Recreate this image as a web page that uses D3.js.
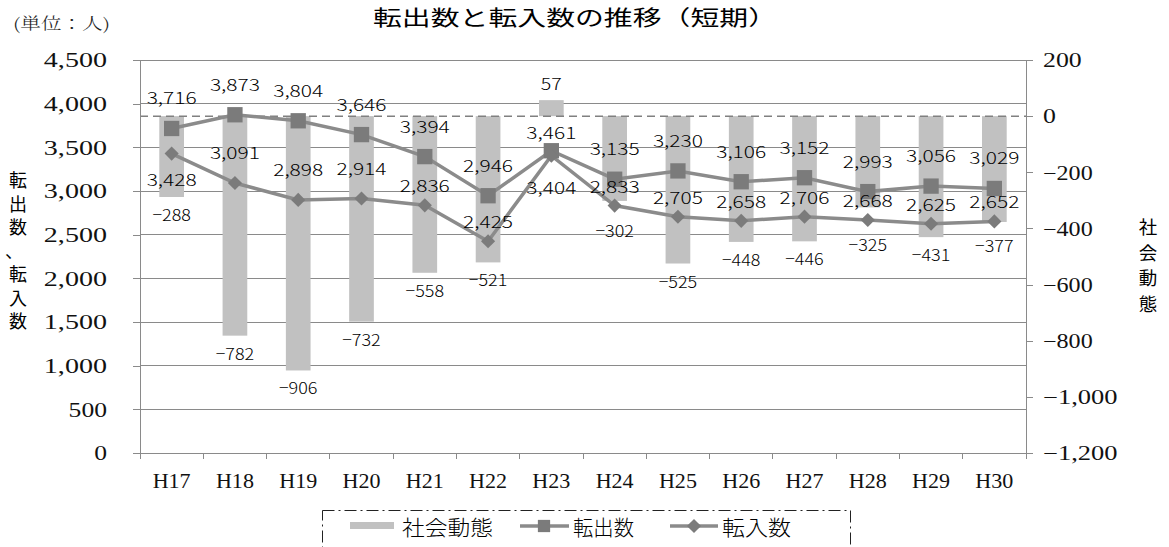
<!DOCTYPE html>
<html><head><meta charset="utf-8">
<script src="https://cdn.jsdelivr.net/npm/d3@7"></script>
<style>body{margin:0;background:#fff}svg{display:block}</style>
</head><body>
<svg id="chart" width="1169" height="547"></svg>
<script>
// ---- data ----
const categories = ["H17","H18","H19","H20","H21","H22","H23","H24","H25","H26","H27","H28","H29","H30"];
const tenshutsu = [3716,3873,3804,3646,3394,2946,3461,3135,3230,3106,3152,2993,3056,3029]; // 転出数
const tennyu    = [3428,3091,2898,2914,2836,2425,3404,2833,2705,2658,2706,2668,2625,2652]; // 転入数
const shakai    = [-288,-782,-906,-732,-558,-521,57,-302,-525,-448,-446,-325,-431,-377];   // 社会動態
const leftTicks  = [0,500,1000,1500,2000,2500,3000,3500,4000,4500];
const rightTicks = [200,0,-200,-400,-600,-800,-1000,-1200];
const seriesNames = ["社会動態","転出数","転入数"];
const titleText = "転出数と転入数の推移（短期）";
const unitText = "(単位：人)";
const leftTitle = "転出数、転入数";
const rightTitle = "社会動態";

// ---- setup ----
const svg = d3.select("#chart");
const L = 140, R = 1026, T = 60, B = 453;
const x = d3.scaleBand().domain(categories).range([L, R]);
const yL = d3.scaleLinear().domain([0, 4500]).range([B, T]);
const yR = d3.scaleLinear().domain([-1200, 200]).range([B, T]);
const fmt = d3.format(",");
const cx = c => x(c) + x.bandwidth() / 2;

const GRID = "#8a8a8a", BAR = "#c1c1c1", LINE = "#8b8b8b", MARK = "#7b7b7b";
const JP = "'Noto Sans CJK JP','Noto Sans',sans-serif";
const SERIF = "'Liberation Serif','DejaVu Serif',serif";

function widthOf(s, dW, cW, mW) {
  let w = 0;
  for (const ch of s) w += /[0-9]/.test(ch) ? dW : ch === "," ? cW : mW;
  return w;
}

// gridlines
svg.append("g").selectAll("line").data(leftTicks.filter(d => d > 0)).join("line")
  .attr("x1", L).attr("x2", R).attr("y1", d => yL(d)).attr("y2", d => yL(d))
  .attr("stroke", GRID).attr("stroke-width", 1).attr("shape-rendering", "crispEdges");

// bars
const bw = x.bandwidth() * 0.39;
svg.append("g").selectAll("rect").data(shakai).join("rect")
  .attr("x", (d, i) => cx(categories[i]) - bw / 2)
  .attr("width", bw)
  .attr("y", d => yR(Math.max(0, d)))
  .attr("height", d => Math.abs(yR(d) - yR(0)))
  .attr("fill", BAR);

// zero dashed line (right axis)
svg.append("line").attr("x1", L).attr("x2", R).attr("y1", yR(0)).attr("y2", yR(0))
  .attr("stroke", "#808080").attr("stroke-width", 1.5).attr("stroke-dasharray", "8,5");

// axes
const axL = svg.append("g").attr("transform", `translate(${L},0)`)
  .call(d3.axisLeft(yL).tickValues(leftTicks).tickSize(7).tickSizeOuter(0).tickFormat(fmt));
const axR = svg.append("g").attr("transform", `translate(${R},0)`)
  .call(d3.axisRight(yR).tickValues(rightTicks).tickSize(7).tickSizeOuter(0).tickFormat(fmt));
const axX = svg.append("g").attr("transform", `translate(0,${B})`)
  .call(d3.axisBottom(x).tickSize(0).tickSizeOuter(0));
[axL, axR, axX].forEach(a => {
  a.attr("font-family", SERIF).attr("font-weight", 400);
  a.select(".domain").attr("stroke", GRID).attr("shape-rendering", "crispEdges");
  a.selectAll(".tick line").attr("stroke", GRID).attr("shape-rendering", "crispEdges");
});
axL.selectAll(".tick text").attr("x", -33).attr("dy", "0.34em")
  .attr("font-family", SERIF).attr("font-size", 20).attr("fill", "#111")
  .attr("textLength", d => widthOf(fmt(d), 12.8, 12, 11)).attr("lengthAdjust", "spacingAndGlyphs");
axR.selectAll(".tick text").attr("x", 17).attr("dy", "0.34em")
  .attr("font-family", SERIF).attr("font-size", 20).attr("fill", "#111").attr("text-anchor", "start")
  .attr("textLength", d => widthOf(fmt(d), 12.9, 12, 11)).attr("lengthAdjust", "spacingAndGlyphs");
axX.selectAll(".tick text").attr("y", 35).attr("dy", 0)
  .attr("font-family", SERIF).attr("font-size", 22).attr("fill", "#111")
  .attr("textLength", 38).attr("lengthAdjust", "spacingAndGlyphs");
// category boundary ticks on x axis
axX.append("g").selectAll("line").data(d3.range(categories.length + 1)).join("line")
  .attr("x1", i => L + i * x.bandwidth()).attr("x2", i => L + i * x.bandwidth())
  .attr("y1", 0).attr("y2", 6).attr("stroke", GRID).attr("shape-rendering", "crispEdges");

// lines
const lineGen = d3.line().x((d, i) => cx(categories[i])).y(d => yL(d));
svg.append("path").datum(tenshutsu).attr("d", lineGen)
  .attr("fill", "none").attr("stroke", LINE).attr("stroke-width", 3.5);
svg.append("path").datum(tennyu).attr("d", lineGen)
  .attr("fill", "none").attr("stroke", LINE).attr("stroke-width", 3.5);

// markers
const sq = d3.symbol(d3.symbolSquare, 235);
const dm = d3.symbol(d3.symbolSquare, 100);
svg.append("g").selectAll("path").data(tenshutsu).join("path")
  .attr("d", sq).attr("transform", (d, i) => `translate(${cx(categories[i])},${yL(d)})`)
  .attr("fill", MARK);
svg.append("g").selectAll("path").data(tennyu).join("path")
  .attr("d", dm).attr("transform", (d, i) => `translate(${cx(categories[i])},${yL(d)}) rotate(45)`)
  .attr("fill", MARK);

// data labels
function lblLen(s) { return widthOf(s, 10.5, 8, 7); }
const lab = svg.append("g").attr("font-family", JP).attr("font-size", 16.5).attr("font-weight", 300)
  .attr("fill", "#000").attr("text-anchor", "middle").attr("dominant-baseline", "central");
function addLabel(xp, yp, s) {
  lab.append("text").attr("x", xp).attr("y", yp).attr("textLength", lblLen(s))
    .attr("lengthAdjust", "spacingAndGlyphs").text(s);
}
categories.forEach((c, i) => {
  const xc = cx(c);
  const yo = yL(tenshutsu[i]), yi = yL(tennyu[i]);
  // 転出数
  addLabel(xc, yo + (shakai[i] > 0 ? -19 : -31), fmt(tenshutsu[i]));
  // 転入数
  const diff = tenshutsu[i] - tennyu[i];
  let off;
  if (diff < 295) off = diff < 100 ? 31 : 25;
  else off = diff > 600 ? -31 : -20;
  addLabel(xc, yi + off, fmt(tennyu[i]));
  // 社会動態
  const v = shakai[i];
  const yb = v > 0 ? yR(v) - 17 : Math.max(yR(v) + 17, yi + 24);
  addLabel(xc, yb, fmt(v));
});

// title & unit
svg.append("text").attr("x", 373).attr("y", 25).attr("font-family", JP).attr("font-size", 21)
  .attr("fill", "#000").attr("textLength", 404).attr("lengthAdjust", "spacingAndGlyphs").text(titleText);
svg.append("text").attr("x", 13).attr("y", 29).attr("font-family", "'Noto Serif CJK JP'," + JP)
  .attr("font-size", 16).attr("font-weight", 300).attr("fill", "#222").attr("textLength", 97)
  .attr("lengthAdjust", "spacingAndGlyphs").text(unitText);

// vertical axis titles (stacked characters)
function stacked(text, xc, y0, pitch, size) {
  const t = svg.append("text").attr("font-family", JP).attr("font-size", size).attr("fill", "#000")
    .attr("text-anchor", "middle").attr("dominant-baseline", "central");
  Array.from(text).forEach((ch, k) => {
    t.append("tspan").attr("x", ch === "、" ? xc - 4 : xc).attr("y", y0 + k * pitch).text(ch);
  });
}
stacked(leftTitle, 18, 179, 23.5, 18);
stacked(rightTitle, 1148, 226, 25.5, 18.5);

// legend
const lg = svg.append("g");
lg.append("rect").attr("x", 322.5).attr("y", 510.5).attr("width", 528).attr("height", 60)
  .attr("fill", "none").attr("stroke", "#222").attr("stroke-width", 1).attr("stroke-dasharray", "12,4,2,4");
const ly = 526;
lg.append("rect").attr("x", 350).attr("y", ly - 4).attr("width", 44).attr("height", 7).attr("fill", BAR);
lg.append("line").attr("x1", 520).attr("x2", 569).attr("y1", ly).attr("y2", ly).attr("stroke", LINE).attr("stroke-width", 3.5);
lg.append("path").attr("d", sq).attr("fill", MARK).attr("transform", `translate(544,${ly}) scale(0.8)`);
lg.append("line").attr("x1", 670).attr("x2", 718).attr("y1", ly).attr("y2", ly).attr("stroke", LINE).attr("stroke-width", 3.5);
lg.append("path").attr("d", dm).attr("transform", `translate(694,${ly}) rotate(45)`).attr("fill", MARK);
const legX = [402, 573, 722], legW = [91, 61, 69];
seriesNames.forEach((n, k) => {
  lg.append("text").attr("x", legX[k]).attr("y", ly).attr("dominant-baseline", "central")
    .attr("font-family", JP).attr("font-size", 21).attr("font-weight", 300).attr("fill", "#000")
    .attr("textLength", legW[k]).attr("lengthAdjust", "spacingAndGlyphs").text(n);
});
</script>
</body></html>
